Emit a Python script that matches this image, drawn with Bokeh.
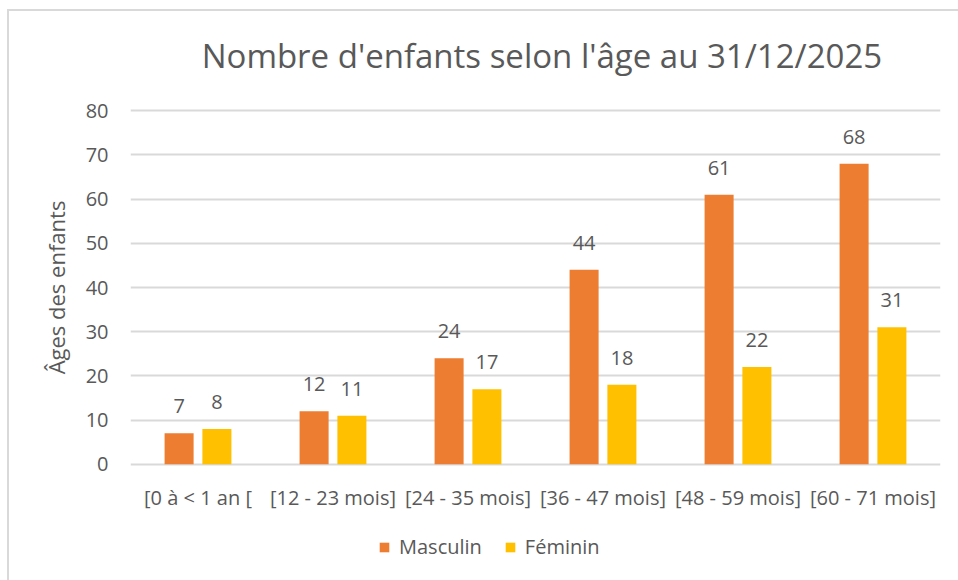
from bokeh.plotting import figure
from bokeh.layouts import column
from bokeh.models import ColumnDataSource, FactorRange, Range1d, LabelSet, Label, Legend, LegendItem
from bokeh.transform import dodge
from bokeh.core.properties import value
from bokeh.embed import file_html
from bokeh.resources import INLINE

title_text = "Nombre d'enfants selon l'âge au 31/12/2025"
categories = ["[0 à < 1 an [", "[12 - 23 mois]", "[24 - 35 mois]", "[36 - 47 mois]", "[48 - 59 mois]", "[60 - 71 mois]"]
masculin = [7, 12, 24, 44, 61, 68]
feminin = [8, 11, 17, 18, 22, 31]
y_ticks = [0, 10, 20, 30, 40, 50, 60, 70, 80]
series_names = ["Masculin", "Féminin"]
series_colors = ["#ED7D31", "#FFC000"]

FONT = "Open Sans"
TXT = "#595959"
GRID = "#D9D9D9"

src = ColumnDataSource(dict(cat=categories, m=masculin, f=feminin,
                            ml=[str(v) for v in masculin], fl=[str(v) for v in feminin]))

# title strip (pixel-sized ranges)
tf = figure(width=949, height=82, output_backend="svg", toolbar_location=None,
            min_border=0, x_range=Range1d(0, 949), y_range=Range1d(0, 82),
            x_axis_type=None, y_axis_type=None)
tf.grid.visible = False
tf.outline_line_color = None
tf.add_layout(Label(x=482, y=38, text=title_text,
                    text_align="center", text_baseline="middle", text_font=FONT,
                    text_font_size="33px", text_color=TXT))

p = figure(width=949, height=427, x_range=FactorRange(*categories, range_padding=0),
           y_range=Range1d(-0.5, 80.5), output_backend="svg", toolbar_location=None,
           min_border_left=121, min_border_right=18, min_border_top=15, min_border_bottom=54)

p.vbar(x=dodge("cat", -0.14, range=p.x_range), top="m", width=0.215, source=src,
       color=series_colors[0], line_color=None)
p.vbar(x=dodge("cat", 0.14, range=p.x_range), top="f", width=0.215, source=src,
       color=series_colors[1], line_color=None)

for col, lab, off in (("m", "ml", -0.14), ("f", "fl", 0.14)):
    p.add_layout(LabelSet(x=dodge("cat", off, range=p.x_range), y=col, text=lab, source=src,
                          y_offset=20, text_align="center", text_baseline="bottom",
                          text_font=value(FONT), text_font_size="20px", text_color=TXT))

p.outline_line_color = None
p.xgrid.grid_line_color = None
p.ygrid.grid_line_color = GRID
p.ygrid.grid_line_width = 2
p.yaxis.ticker = y_ticks
p.yaxis.axis_line_color = None
p.xaxis.axis_line_color = None
for ax in (p.xaxis, p.yaxis):
    ax.major_tick_line_color = None
    ax.minor_tick_line_color = None
    ax.major_label_text_font = FONT
    ax.major_label_text_font_size = "20px"
    ax.major_label_text_color = TXT
p.yaxis.major_label_standoff = 16
p.xaxis.major_label_standoff = 11
p.yaxis.axis_label = "Âges des enfants"
p.yaxis.axis_label_text_font = FONT
p.yaxis.axis_label_text_font_size = "22px"
p.yaxis.axis_label_text_font_style = "normal"
p.yaxis.axis_label_text_color = TXT
p.yaxis.axis_label_standoff = 12

# legend in its own strip below the chart
lg = figure(width=949, height=60, output_backend="svg", toolbar_location=None,
            min_border=0, x_range=Range1d(0, 1), y_range=Range1d(0, 1),
            x_axis_type=None, y_axis_type=None)
lg.grid.visible = False
lg.outline_line_color = None
items = []
for name, c in zip(series_names, series_colors):
    r = lg.vbar(x=[0.5], top=[0], bottom=[0], width=0.0, color=c, line_color=None)
    items.append(LegendItem(label=name, renderers=[r]))
legend = Legend(items=items, orientation="horizontal", location=(248, 20),
                label_text_font=FONT, label_text_font_size="20px", label_text_color=TXT,
                glyph_width=12, glyph_height=12, label_standoff=9, spacing=22,
                padding=0, margin=0, border_line_color=None, background_fill_alpha=0)
lg.add_layout(legend)

layout = column(tf, p, lg, spacing=0)
layout.styles = {"margin-left": "7px", "margin-top": "9px",
                 "border-left": "2px solid #D9D9D9", "border-top": "2px solid #D9D9D9"}

open("out.html", "w").write(file_html(layout, INLINE))
